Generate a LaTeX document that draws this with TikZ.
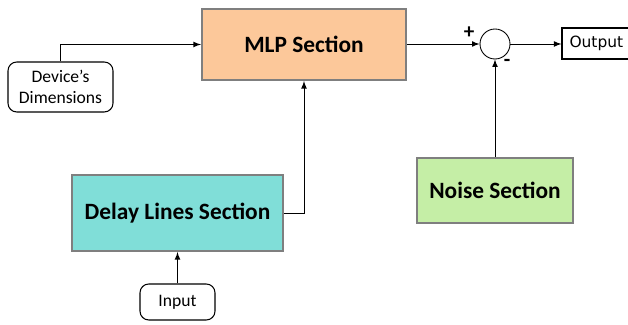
\documentclass[tikz,border=0pt]{standalone}
\usepackage{fontspec}
\setmainfont{Carlito}
\newfontfamily\outfont{DejaVu Sans}
\usetikzlibrary{arrows, calc}

\definecolor{mlpfill}{RGB}{252,200,154}
\definecolor{delayfill}{RGB}{128,222,216}
\definecolor{noisefill}{RGB}{197,238,166}
\definecolor{blockedge}{RGB}{127,127,127}

\tikzset{
    block/.style={draw=blockedge, line width=1.2pt, align=center, inner sep=2pt,
        font=\fontsize{13.3}{16}\selectfont\bfseries},
    term/.style={draw, rounded corners=5pt, line width=0.6pt, align=center,
        font=\fontsize{10}{12}\selectfont},
    wire/.style={->, >=latex, line width=0.5pt}
}

\begin{document}
\begin{tikzpicture}
    \useasboundingbox (0, 0) rectangle (12.56, 6.5);

    \node[block, fill=mlpfill, minimum width=4.08cm, minimum height=1.42cm] (mlp) at (6.08, 5.61) {MLP Section};
    \node[block, fill=delayfill, minimum width=4.22cm, minimum height=1.52cm] (delay) at (3.55, 2.24) {Delay Lines Section};
    \node[block, fill=noisefill, minimum width=3.12cm, minimum height=1.3cm] (noise) at (9.9, 2.69) {Noise Section};

    \node[term, minimum width=2.1cm, minimum height=1cm] (dev) at (1.21, 4.76) {Device’s\\Dimensions};
    \node[term, minimum width=1.5cm, minimum height=0.72cm] (input) at (3.55, 0.46) {Input};
    \node[draw, line width=0.6pt, minimum width=1.6cm, minimum height=0.62cm, text width=1.3cm, align=left,
        font=\outfont\fontsize{8.8}{10}\selectfont] (out) at (12.04, 5.63) {Output};

    \node[draw, circle, line width=0.5pt, minimum size=0.6cm, inner sep=0pt] (sum) at (9.9, 5.62) {};
    \node[font=\bfseries\large, inner sep=0pt] (plus) at (9.38, 5.84) {+};
    \node[font=\bfseries\large, inner sep=0pt] (minus) at (10.14, 5.24) {-};

    \draw[wire] (dev.north) |- (mlp.west);
    \draw[wire] (delay.east) -| (mlp.south);
    \draw[wire] (input.north) -- (delay.south);
    \draw[wire] (mlp.east |- sum.west) -- (sum.west);
    \draw[wire] (noise.north) -- (sum.south);
    \draw[wire] (sum.east) -- (out.west |- sum.east);
\end{tikzpicture}
\end{document}
